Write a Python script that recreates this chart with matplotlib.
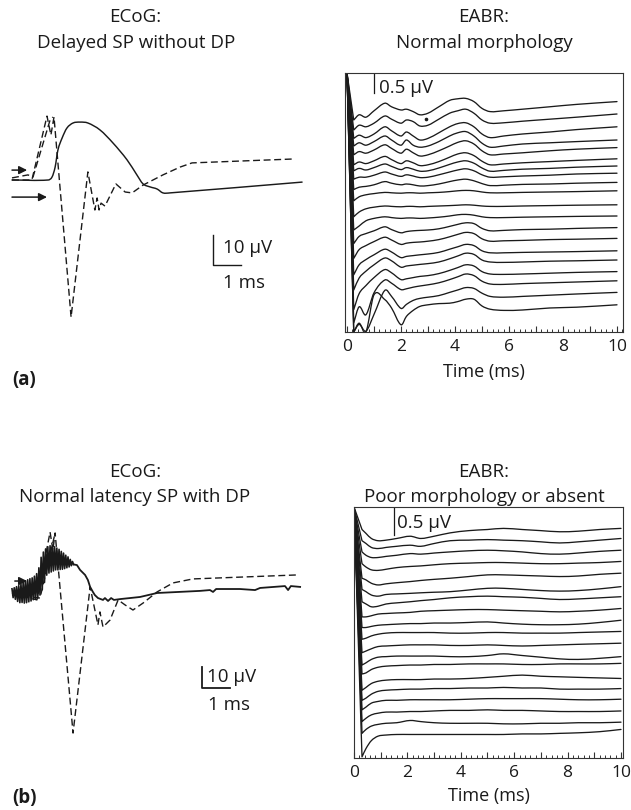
import numpy as np
import matplotlib
matplotlib.use("Agg")
import matplotlib.pyplot as plt
from matplotlib.path import Path
from matplotlib.patches import PathPatch
from matplotlib.ticker import MultipleLocator, FuncFormatter

plt.rcParams['font.family'] = ['Open Sans', 'DejaVu Sans']
plt.rcParams['font.size'] = 13.5

# ---------------------------------------------------------------
# ECoG (a): delayed SP without DP   (time in ms, amplitude in µV)
# ---------------------------------------------------------------
ecog_a_solid_t = [0.0, 1.29, 1.43, 1.54, 1.64, 1.79, 1.96, 2.18, 2.43, 2.71, 3.14,
                  3.61, 4.11, 4.46, 4.68, 4.93, 5.18, 5.39, 5.64, 10.36]
ecog_a_solid_v = [0.0, 0.0, 1.0, 4.3, 10.0, 14.0, 17.3, 19.0, 19.3, 19.0, 16.7,
                  12.3, 6.7, 1.7, -1.3, -2.3, -3.0, -4.3, -4.3, -0.7]

ecog_a_dash1_t = [0.0, 0.71, 1.25, 1.39, 1.50, 2.11, 2.71, 2.96, 3.04, 3.11, 3.18,
                  3.32, 3.71, 4.04, 4.29, 4.68, 5.39, 6.00, 6.43, 10.04]
ecog_a_dash1_v = [0.0, 0.0, 21.3, 15.0, 21.0, -45.7, 2.7, -10.0, -6.0, -10.0, -7.7,
                  -8.7, -1.3, -4.0, -4.3, -1.7, 1.7, 4.3, 5.7, 7.0]

ecog_a_dash2_t = [0.0, 0.57, 0.75, 1.36, 1.46]
ecog_a_dash2_v = [0.7, 1.7, 1.0, 20.0, 21.0]

ecog_a_arrows = [(0.0, 0.54, 3.3), (0.0, 1.25, -5.7)]     # (start, end, level)

# ---------------------------------------------------------------
# ECoG (b): normal latency SP with DP
# ---------------------------------------------------------------
ecog_b_noise_dt = 0.04
ecog_b_noise_v = [2.0, -2.2, 2.5, -3.0, 3.0, -4.0, 3.5, -4.6, 4.2, -4.5,
                  5.0, -4.8, 5.8, -4.6, 6.3, -4.2, 6.8, -3.8, 7.2, -3.2,
                  8.0, -2.8, 9.2, -2.4, 12.0, -1.0, 17.0, 1.5, 19.5, 5.0,
                  21.0, 8.5, 22.0, 9.5, 22.5, 10.0, 22.3, 10.5, 22.0, 11.0,
                  21.4, 11.0, 20.8, 11.2, 19.8, 11.3, 19.0, 11.6, 18.0, 12.0,
                  17.2, 12.4, 16.0, 13.0, 15.0, 13.6]
ecog_b_tail_t = [2.32, 2.43, 2.61, 2.71, 2.79, 2.89, 2.96, 3.07, 3.25, 3.32, 3.43,
                 3.54, 3.64, 3.86, 4.57, 5.18, 6.71, 7.07, 7.18, 7.29, 8.14, 8.68,
                 8.86, 9.75, 9.86, 9.96, 10.29]
ecog_b_tail_v = [13.3, 11.0, 8.6, 6.2, 2.9, 0.5, -1.0, -2.4, -3.3, -2.4, -3.8,
                 -2.4, -3.3, -2.9, -1.9, 0.0, 1.0, 1.4, 0.5, 1.9, 1.9, 1.4,
                 2.4, 3.3, 1.4, 3.3, 2.9]

ecog_b_dash1_t = [0.0, 0.89, 1.36, 1.46, 1.54, 2.18, 2.79, 3.07, 3.14, 3.25, 3.50,
                  3.79, 4.04, 4.32, 4.68, 5.18, 5.75, 6.46, 10.18]
ecog_b_dash1_v = [0.0, -3.3, 29.0, 20.5, 28.6, -66.7, 2.9, -15.2, -9.0, -16.2, -12.9,
                  -3.3, -5.7, -8.1, -4.8, 0.5, 4.8, 6.7, 8.6]
ecog_b_dash2_t = [0.0, 1.0, 1.54]
ecog_b_dash2_v = [-1.0, -2.4, 28.6]

ecog_b_arrows = [(0.1, 0.54, 5.7)]

# ---------------------------------------------------------------
# EABR (a): normal morphology, 20 stacked sweeps (µV)
# ---------------------------------------------------------------
eabr_a_time = [0.25, 0.45, 0.7, 1.0, 1.4, 1.65, 2.0, 2.2, 2.45, 2.7, 3.0, 3.4,
               3.8, 4.1, 4.4, 4.7, 5.0, 5.3, 5.8, 6.5, 7.5, 8.5, 10.0]
eabr_a_levels = [5.76, 5.45, 5.13, 4.80, 4.61, 4.33, 4.15, 3.97, 3.74, 3.53,
                 3.18, 2.90, 2.61, 2.34, 2.03, 1.80, 1.51, 1.28, 0.99, 0.68]
eabr_a_sweeps = [
    [-0.46, -0.33, -0.39, -0.23, -0.04, -0.13, -0.21, -0.19, -0.25, -0.33, -0.29, -0.13, 0.03, 0.07, 0.08, 0.00, -0.17, -0.25, -0.23, -0.19, -0.13, -0.07, 0.00],
    [-0.40, -0.28, -0.32, -0.23, -0.05, -0.13, -0.23, -0.15, -0.19, -0.30, -0.28, -0.13, 0.02, 0.08, 0.12, 0.02, -0.15, -0.23, -0.22, -0.18, -0.13, -0.08, 0.00],
    [-0.29, -0.21, -0.27, -0.18, 0.00, -0.10, -0.23, -0.13, -0.23, -0.33, -0.29, -0.15, 0.00, 0.08, 0.10, 0.00, -0.18, -0.27, -0.23, -0.18, -0.13, -0.07, 0.00],
    [-0.15, -0.07, -0.13, -0.04, 0.10, 0.00, -0.13, 0.00, -0.13, -0.18, -0.15, -0.04, 0.10, 0.18, 0.21, 0.10, -0.08, -0.18, -0.15, -0.10, -0.07, -0.04, 0.00],
    [-0.18, -0.10, -0.14, -0.06, 0.07, -0.02, -0.14, -0.04, -0.13, -0.21, -0.18, -0.08, 0.04, 0.13, 0.17, 0.09, -0.08, -0.18, -0.16, -0.13, -0.08, -0.04, 0.00],
    [-0.15, -0.08, -0.12, -0.05, 0.06, -0.02, -0.12, -0.05, -0.10, -0.17, -0.15, -0.07, 0.04, 0.12, 0.15, 0.08, -0.06, -0.15, -0.13, -0.10, -0.07, -0.04, 0.00],
    [-0.12, -0.06, -0.10, -0.04, 0.05, -0.01, -0.09, -0.04, -0.08, -0.13, -0.12, -0.05, 0.04, 0.10, 0.13, 0.07, -0.05, -0.13, -0.11, -0.08, -0.06, -0.03, 0.00],
    [-0.15, -0.10, -0.10, -0.05, 0.03, -0.02, -0.08, -0.04, -0.07, -0.11, -0.10, -0.04, 0.03, 0.08, 0.11, 0.06, -0.04, -0.10, -0.09, -0.07, -0.05, -0.02, 0.00],
    [-0.18, -0.12, -0.10, -0.06, 0.02, -0.02, -0.06, -0.04, -0.06, -0.09, -0.08, -0.04, 0.02, 0.06, 0.08, 0.04, -0.03, -0.08, -0.07, -0.05, -0.04, -0.02, 0.00],
    [-0.25, -0.15, -0.10, -0.07, -0.04, -0.05, -0.06, -0.05, -0.05, -0.06, -0.05, -0.04, -0.02, 0.00, 0.01, 0.00, -0.03, -0.05, -0.05, -0.04, -0.03, -0.02, 0.00],
    [-0.30, -0.18, -0.10, -0.06, -0.03, -0.04, -0.05, -0.04, -0.04, -0.05, -0.04, -0.03, -0.02, -0.01, 0.00, -0.01, -0.03, -0.04, -0.04, -0.03, -0.02, -0.01, 0.00],
    [-0.35, -0.25, -0.12, -0.06, -0.02, -0.04, -0.06, -0.05, -0.05, -0.06, -0.05, -0.03, 0.00, 0.03, 0.04, 0.02, -0.02, -0.04, -0.04, -0.03, -0.02, -0.01, 0.00],
    [-0.40, -0.22, -0.15, -0.08, 0.02, -0.05, -0.13, -0.10, -0.08, -0.07, -0.06, -0.03, 0.03, 0.08, 0.12, 0.10, -0.02, -0.08, -0.07, -0.05, -0.04, -0.02, 0.00],
    [-0.50, -0.28, -0.18, -0.08, 0.03, -0.04, -0.15, -0.12, -0.10, -0.09, -0.07, -0.03, 0.04, 0.10, 0.15, 0.12, -0.01, -0.07, -0.06, -0.05, -0.03, -0.02, 0.00],
    [-0.60, -0.35, -0.22, -0.10, 0.04, -0.03, -0.17, -0.14, -0.12, -0.10, -0.08, -0.04, 0.04, 0.10, 0.16, 0.13, 0.00, -0.05, -0.05, -0.04, -0.03, -0.02, 0.00],
    [-0.75, -0.45, -0.28, -0.12, 0.05, -0.02, -0.18, -0.15, -0.13, -0.11, -0.09, -0.05, 0.03, 0.10, 0.17, 0.14, 0.00, -0.05, -0.06, -0.05, -0.03, -0.02, 0.00],
    [-0.95, -0.55, -0.35, -0.15, 0.05, -0.03, -0.20, -0.18, -0.15, -0.12, -0.10, -0.05, 0.03, 0.10, 0.17, 0.14, 0.00, -0.06, -0.07, -0.06, -0.04, -0.02, 0.00],
    [-1.05, -0.65, -0.85, -0.30, 0.02, -0.06, -0.22, -0.20, -0.16, -0.13, -0.10, -0.05, 0.03, 0.10, 0.17, 0.13, -0.01, -0.08, -0.09, -0.07, -0.05, -0.03, 0.00],
    [-0.99, -0.80, -0.97, -0.55, 0.05, -0.10, -0.40, -0.30, -0.20, -0.15, -0.12, -0.08, 0.00, 0.06, 0.12, 0.10, -0.02, -0.10, -0.12, -0.10, -0.07, -0.04, 0.00],
    [-0.68, -0.46, -0.68, 0.25, 0.13, -0.08, -0.50, -0.29, -0.14, -0.04, 0.00, 0.03, 0.04, 0.08, 0.14, 0.14, -0.03, -0.11, -0.14, -0.13, -0.08, -0.06, 0.00],
]
eabr_a_onset = 6.475          # stimulus artefact level at t = 0
eabr_a_dot = (2.93, 5.33)

# ---------------------------------------------------------------
# EABR (b): poor morphology or absent, 19 stacked sweeps (µV)
# ---------------------------------------------------------------
eabr_b_time = [0.3, 0.45, 0.65, 0.9, 1.2, 1.6, 2.1, 2.5, 3.0, 3.6, 4.3, 5.0, 5.6,
               6.3, 7.0, 7.7, 8.4, 9.2, 10.0]
eabr_b_levels = [4.10, 3.92, 3.71, 3.51, 3.30, 3.06, 2.88, 2.67, 2.46, 2.26,
                 2.05, 1.81, 1.69, 1.42, 1.24, 1.05, 0.84, 0.64, 0.51]
eabr_b_sweeps = [
    [-0.02, -0.09, -0.18, -0.22, -0.21, -0.18, -0.14, -0.18, -0.14, -0.08, -0.04, -0.02, 0.00, -0.02, -0.04, -0.06, -0.05, -0.02, 0.00],
    [-0.04, -0.09, -0.16, -0.18, -0.16, -0.14, -0.12, -0.14, -0.09, -0.04, -0.03, -0.02, -0.03, -0.04, -0.06, -0.08, -0.06, -0.03, 0.00],
    [-0.03, -0.09, -0.13, -0.13, -0.11, -0.09, -0.06, -0.07, -0.05, -0.03, -0.01, 0.00, -0.01, -0.03, -0.06, -0.07, -0.05, -0.02, 0.00],
    [-0.04, -0.10, -0.15, -0.16, -0.14, -0.11, -0.09, -0.08, -0.06, -0.04, -0.03, -0.02, -0.02, -0.03, -0.04, -0.04, -0.03, -0.02, 0.00],
    [-0.09, -0.12, -0.18, -0.21, -0.19, -0.17, -0.15, -0.13, -0.11, -0.09, -0.06, -0.03, -0.03, -0.04, -0.05, -0.06, -0.05, -0.02, 0.00],
    [-0.05, -0.09, -0.15, -0.17, -0.14, -0.13, -0.12, -0.11, -0.10, -0.09, -0.06, -0.03, -0.03, -0.05, -0.07, -0.08, -0.07, -0.04, 0.00],
    [-0.09, -0.13, -0.18, -0.17, -0.13, -0.11, -0.09, -0.07, -0.05, -0.02, 0.00, 0.01, 0.00, -0.01, -0.03, -0.05, -0.04, -0.02, 0.00],
    [-0.15, -0.15, -0.13, -0.10, -0.09, -0.08, -0.07, -0.05, -0.04, -0.03, -0.02, -0.02, -0.03, -0.04, -0.05, -0.06, -0.05, -0.03, 0.00],
    [-0.13, -0.13, -0.11, -0.09, -0.08, -0.07, -0.06, -0.06, -0.05, -0.05, -0.04, -0.03, -0.05, -0.07, -0.08, -0.08, -0.07, -0.04, 0.00],
    [-0.14, -0.12, -0.08, -0.05, -0.03, -0.02, -0.02, -0.02, -0.02, -0.03, -0.03, -0.02, -0.02, -0.03, -0.03, -0.03, -0.02, -0.01, 0.00],
    [-0.17, -0.14, -0.10, -0.06, -0.05, -0.04, -0.03, -0.03, -0.03, -0.04, -0.04, -0.03, -0.04, -0.05, -0.04, -0.03, -0.02, -0.01, 0.00],
    [-0.15, -0.11, -0.05, -0.01, 0.00, 0.01, 0.01, 0.01, 0.01, 0.00, 0.00, 0.02, 0.05, 0.02, -0.01, -0.04, -0.05, -0.03, 0.00],
    [-0.19, -0.17, -0.11, -0.07, -0.05, -0.04, -0.03, -0.03, -0.02, -0.02, -0.01, -0.01, -0.01, -0.02, -0.02, -0.01, -0.01, -0.01, 0.00],
    [-0.21, -0.16, -0.09, -0.05, -0.03, -0.02, -0.02, -0.02, -0.01, -0.01, 0.00, 0.02, 0.04, 0.06, 0.04, 0.03, 0.02, 0.01, 0.00],
    [-0.21, -0.17, -0.10, -0.05, -0.03, -0.02, -0.01, -0.01, 0.00, 0.00, 0.01, 0.01, 0.02, 0.01, 0.01, -0.01, -0.01, -0.01, 0.00],
    [-0.19, -0.14, -0.07, -0.04, -0.02, -0.02, -0.01, -0.01, -0.01, -0.01, 0.00, 0.01, 0.01, 0.01, 0.01, 0.00, -0.01, -0.01, 0.00],
    [-0.19, -0.13, -0.07, -0.04, -0.02, -0.02, -0.01, -0.01, 0.00, 0.01, 0.01, 0.02, 0.01, 0.01, 0.00, -0.01, -0.01, -0.01, 0.00],
    [-0.20, -0.13, -0.07, -0.04, -0.02, -0.01, 0.03, 0.01, -0.01, -0.02, -0.02, -0.02, -0.03, -0.03, -0.02, -0.02, -0.01, -0.01, 0.00],
    [-0.49, -0.34, -0.20, -0.12, -0.10, -0.09, -0.09, -0.09, -0.09, -0.09, -0.09, -0.09, -0.09, -0.08, -0.08, -0.07, -0.06, -0.04, 0.00],
]
eabr_b_onset = 4.482

# ---------------------------------------------------------------
W, H = 631, 810
fig = plt.figure(figsize=(W / 100, H / 100), dpi=100)
fig.patch.set_facecolor('white')
INK = '#1a1a1a'
SPINE = '#333333'


def px_axes(x0, y0, x1, y1):
    return fig.add_axes([x0 / W, 1 - y1 / H, (x1 - x0) / W, (y1 - y0) / H])


def ftext(x, y, s, **kw):
    kw.setdefault('ha', 'center')
    kw.setdefault('va', 'center')
    fig.text(x / W, 1 - y / H, s, color=INK, **kw)


def smooth_trace(ax, t, v, straight_lead=False, **kw):
    """Draw samples as a smooth cubic (Hermite in time) through every point."""
    t = np.asarray(t, float)
    v = np.asarray(v, float)
    start = 1 if straight_lead else 0
    verts = [(t[0], v[0])]
    codes = [Path.MOVETO]
    if straight_lead:
        verts.append((t[1], v[1]))
        codes.append(Path.LINETO)
    ts, vs = t[start:], v[start:]
    n = len(ts)
    slope = np.empty(n)
    for i in range(n):
        lo, hi = max(i - 1, 0), min(i + 1, n - 1)
        slope[i] = (vs[hi] - vs[lo]) / (ts[hi] - ts[lo])
    for i in range(n - 1):
        h = ts[i + 1] - ts[i]
        verts += [(ts[i] + h / 3, vs[i] + slope[i] * h / 3),
                  (ts[i + 1] - h / 3, vs[i + 1] - slope[i + 1] * h / 3),
                  (ts[i + 1], vs[i + 1])]
        codes += [Path.CURVE4] * 3
    ax.add_patch(PathPatch(Path(verts, codes), fill=False, capstyle='round',
                           joinstyle='round', **kw))


def draw_arrows(ax, arrows):
    for t0, t1, v in arrows:
        ax.annotate('', xy=(t1, v), xytext=(t0, v),
                    arrowprops=dict(arrowstyle='-|>', color=INK, lw=1.1,
                                    mutation_scale=12, shrinkA=0, shrinkB=0))


DASH = (0, (5.0, 2.6))

# ---- ECoG (a) ----
ax = px_axes(0, 95, 320, 335)
ax.set_xlim(-12 / 28, 308 / 28)
ax.set_ylim((180 - 335) / 3, (180 - 95) / 3)
ax.axis('off')
smooth_trace(ax, ecog_a_solid_t, ecog_a_solid_v, edgecolor=INK, lw=1.05)
ax.plot(ecog_a_dash1_t, ecog_a_dash1_v, color=INK, lw=1.0, ls=DASH)
ax.plot(ecog_a_dash2_t, ecog_a_dash2_v, color=INK, lw=1.0, ls=DASH)
draw_arrows(ax, ecog_a_arrows)
ax.plot([7.18, 7.18, 8.18], [-18.3, -28.3, -28.3], color=INK, lw=1.0)
ax.text(7.55, -22.8, '10 µV', ha='left', va='center', color=INK)
ax.text(7.55, -34.3, '1 ms', ha='left', va='center', color=INK)

# ---- ECoG (b) ----
ax = px_axes(0, 510, 320, 750)
ax.set_xlim(-12 / 28, 308 / 28)
ax.set_ylim((593 - 750) / 2.1, (593 - 510) / 2.1)
ax.axis('off')
noise_t = ecog_b_noise_dt * np.arange(len(ecog_b_noise_v))
ax.plot(noise_t, ecog_b_noise_v, color=INK, lw=1.2)
ax.plot([noise_t[-1]] + ecog_b_tail_t, [ecog_b_noise_v[-1]] + ecog_b_tail_v,
        color=INK, lw=1.3)
ax.plot(ecog_b_dash1_t, ecog_b_dash1_v, color=INK, lw=1.0, ls=DASH)
ax.plot(ecog_b_dash2_t, ecog_b_dash2_v, color=INK, lw=1.0, ls=DASH)
draw_arrows(ax, ecog_b_arrows)
ax.plot([6.79, 6.79, 7.79], [-35.2, -45.2, -45.2], color=INK, lw=1.3)
ax.text(6.98, -40.0, '10 µV', ha='left', va='center', color=INK)
ax.text(7.0, -53.3, '1 ms', ha='left', va='center', color=INK)


def eabr_axes(ax, xlim, onset, t_grid, levels, sweeps, label_pad):
    ax.set_xlim(*xlim)
    ax.set_ylim(0, onset)
    for lev, sw in zip(levels, sweeps):
        t = [0.0] + list(t_grid)
        v = [onset] + [lev + d for d in sw]
        smooth_trace(ax, t, v, straight_lead=True, edgecolor=INK, lw=0.95)
    ax.set_yticks([])
    ax.xaxis.set_major_locator(MultipleLocator(1))
    ax.xaxis.set_minor_locator(MultipleLocator(0.2))
    ax.xaxis.set_major_formatter(FuncFormatter(
        lambda x, p: f"{int(round(x))}" if round(x) % 2 == 0 else ""))
    ax.tick_params(axis='x', which='major', direction='in', length=4.0,
                   width=0.8, color=SPINE, labelsize=12.5, pad=5,
                   labelcolor=INK)
    ax.tick_params(axis='x', which='minor', direction='in', length=2.0,
                   width=0.7, color=SPINE)
    for s in ax.spines.values():
        s.set_linewidth(0.8)
        s.set_color(SPINE)
    ax.set_xlabel('Time (ms)', fontsize=13, labelpad=label_pad, color=INK)


# ---- EABR (a) ----
ax = px_axes(345, 73, 623, 332)
eabr_axes(ax, (-0.074, 10.222), eabr_a_onset, eabr_a_time, eabr_a_levels,
          eabr_a_sweeps, 6)
ax.plot([1.0, 1.0], [eabr_a_onset, eabr_a_onset - 0.5], color=INK, lw=0.9)
ax.text(1.2, 6.09, '0.5 µV', ha='left', va='center', color=INK)
ax.plot([eabr_a_dot[0]], [eabr_a_dot[1]], 'o', color=INK, ms=1.6)

# ---- EABR (b) ----
ax = px_axes(354, 507, 623, 758)
eabr_axes(ax, (0.0, 10.075), eabr_b_onset, eabr_b_time, eabr_b_levels,
          eabr_b_sweeps, 4)
ax.plot([1.5, 1.5], [eabr_b_onset, eabr_b_onset - 0.5], color=INK, lw=0.9)
ax.text(1.61, 4.2, '0.5 µV', ha='left', va='center', color=INK)

# ---- headings and panel letters ----
ftext(135, 17, 'ECoG:')
ftext(136, 43, 'Delayed SP without DP')
ftext(484, 17, 'EABR:')
ftext(484, 43, 'Normal morphology')
ftext(135, 472, 'ECoG:')
ftext(135, 497, 'Normal latency SP with DP')
ftext(484, 472, 'EABR:')
ftext(484, 497, 'Poor morphology or absent')
ftext(12, 380, '(a)', ha='left', fontweight='bold')
ftext(12, 798, '(b)', ha='left', fontweight='bold')

fig.savefig('out.png', dpi=100, facecolor='white')
